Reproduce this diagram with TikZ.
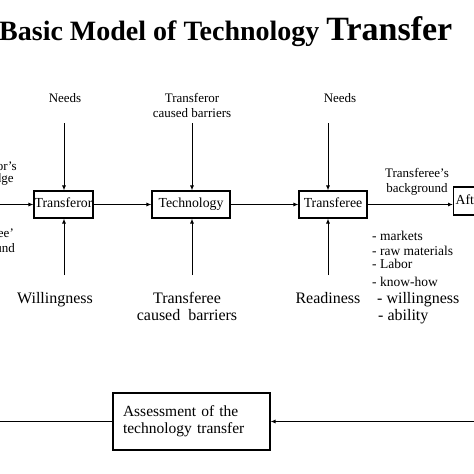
\documentclass[tikz,border=0pt]{standalone}
\usepackage{fontspec}
\setmainfont{Liberation Serif}
\usetikzlibrary{arrows.meta}

\begin{document}
\begin{tikzpicture}[
  x=1pt, y=-1pt,
  every node/.style={inner sep=0pt},
  box/.style={draw=black,line width=1.1pt,minimum height=27pt,text height=9pt,text depth=3pt,
              font=\fontsize{13.8}{15}\selectfont},
  lab/.style={font=\fontsize{13}{15}\selectfont,align=center},
  big/.style={font=\fontsize{16}{17}\selectfont,align=center},
  lst/.style={font=\fontsize{13.5}{14}\selectfont,anchor=base west},
  arr/.style={-{Latex[length=5pt,width=4pt]},line width=0.9pt},
  ln/.style={line width=0.9pt},
]
  \useasboundingbox (0,0) rectangle (474,474);
  \clip (0,0) rectangle (474,474);
  % ============ title ============
  \node[anchor=base west,font=\bfseries] (title) at (-1,40)
    {\fontsize{28}{30}\selectfont Basic Model of Technology \fontsize{34}{36}\selectfont Transfer};
  % ============ main row ============
  \node[box,minimum width=59pt] (tfor) at (63.5,204.5) {Transferor};
  \node[box,minimum width=78pt] (tech) at (191,204.5) {Technology};
  \node[box,minimum width=68pt] (tfee) at (333,204.5) {Transferee};
  \node[box,minimum height=28pt,anchor=west,text width=56pt,align=left,inner xsep=2pt] (after) at (453,201) {After};
  \coordinate (inL) at (0,204.5);
  \draw[arr] (inL) -- (tfor.west);
  \draw[arr] (tfor) -- (tech);
  \draw[arr] (tech) -- (tfee);
  \draw[arr] (tfee.east) -- (tfee.east -| after.west);
  % ============ inputs from above ============
  \node[lab,anchor=base] (needsA) at (65,102) {Needs};
  \node[lab,anchor=north] (torBar) at (192,93) {Transferor\\caused barriers};
  \node[lab,anchor=base] (needsB) at (340,102) {Needs};
  \coordinate (upA) at (64,123);
  \coordinate (upB) at (192,123);
  \coordinate (upC) at (328,123);
  \draw[arr] (upA) -- (upA |- tfor.north);
  \draw[arr] (upB) -- (upB |- tech.north);
  \draw[arr] (upC) -- (upC |- tfee.north);
  % ============ inputs from below ============
  \coordinate (dnA) at (64,275);
  \coordinate (dnB) at (192,275);
  \coordinate (dnC) at (328,275);
  \draw[arr] (dnA) -- (dnA |- tfor.south);
  \draw[arr] (dnB) -- (dnB |- tech.south);
  \draw[arr] (dnC) -- (dnC |- tfee.south);
  \node[big,anchor=base] (willing) at (55,303) {Willingness};
  \node[big,anchor=north] (teeBar) at (187,292) {Transferee\\caused\ \ barriers};
  \node[big,anchor=base] (ready) at (328,303) {Readiness};
  % ============ side labels ============
  \node[lab,anchor=north east] (torKnow) at (17,161) {Transferor’s\\[-3pt]knowledge};
  \node[lab,anchor=north east] (teeBgL) at (15,228) {Transferee’\\background};
  \node[lab,anchor=north] (teeBgR) at (417,168) {Transferee’s\\background};
  \node[lst] (lsA) at (372,240) {- markets};
  \node[lst] (lsB) at (372,255) {- raw materials};
  \node[lst] (lsC) at (372,268) {- Labor};
  \node[lst] (lsD) at (372,286) {- know-how};
  \node[big,anchor=base west] (lsE) at (377,303) {- willingness};
  \node[big,anchor=base west] (lsF) at (378,320) {- ability};
  % ============ assessment ============
  \node[box,minimum width=157pt,minimum height=57pt,text width=137pt,text height=,text depth=,align=left,
        font=\fontsize{15.5}{17}\selectfont] (assess) at (191.5,421.5) {Assessment of the\\technology transfer};
  \coordinate (fbL) at (0,421.5);
  \coordinate (fbR) at (474,421.5);
  \draw[ln] (fbL) -- (assess.west);
  \draw[arr] (fbR) -- (assess.east);
\end{tikzpicture}
\end{document}
